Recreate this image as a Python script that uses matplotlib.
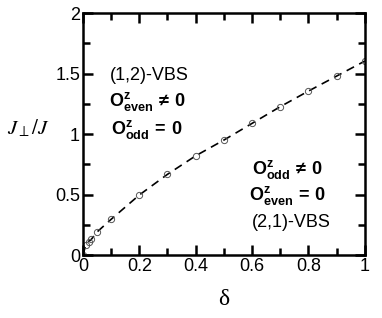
import numpy as np
import matplotlib
matplotlib.use("Agg")
import matplotlib.pyplot as plt
from matplotlib.ticker import MultipleLocator

# -----------------------------
# DADOS
# -----------------------------
delta = [0.0, 0.01, 0.02, 0.03, 0.05, 0.1, 0.2, 0.3, 0.4, 0.5, 0.6, 0.7, 0.8, 0.9, 1.0]
jperp = [0.0, 0.08, 0.11, 0.13, 0.19, 0.295, 0.496, 0.667, 0.82, 0.95, 1.088, 1.226, 1.355, 1.479, 1.603]

xticks = [0, 0.2, 0.4, 0.6, 0.8, 1]
xticklabels = ["0", "0.2", "0.4", "0.6", "0.8", "1"]
yticks = [0, 0.5, 1, 1.5, 2]
yticklabels = ["0", "0.5", "1", "1.5", "2"]

plt.rcParams["font.family"] = ["Liberation Sans", "DejaVu Sans"]
plt.rcParams["mathtext.fontset"] = "custom"
plt.rcParams["mathtext.rm"] = "Liberation Sans:bold"
plt.rcParams["mathtext.bf"] = "Liberation Sans:bold"
plt.rcParams["mathtext.it"] = "Liberation Sans:bold"

fig = plt.figure(figsize=(3.82, 3.18), dpi=100)
ax = fig.add_axes([0.217, 0.198, 0.738, 0.761])

ax.plot(delta, jperp, color="black", lw=1.2, dashes=(5, 3.5),
        marker="o", ms=4.5, mfc="none", mec="#555555", mew=0.7)

ax.set_xlim(0, 1)
ax.set_ylim(0, 2)
ax.set_xticks(xticks)
ax.set_xticklabels(xticklabels)
ax.set_yticks(yticks)
ax.set_yticklabels(yticklabels)
ax.xaxis.set_minor_locator(MultipleLocator(0.1))
ax.yaxis.set_minor_locator(MultipleLocator(0.25))
ax.tick_params(which="both", direction="in", top=True, right=True,
               labelsize=13, width=1.8, pad=2)
ax.tick_params(which="major", length=7)
ax.tick_params(which="minor", length=5)
for s in ax.spines.values():
    s.set_linewidth(1.8)

ax.set_xlabel("δ", fontsize=17, family="Liberation Serif", labelpad=10)
fig.text(0.075, 0.597, r"$J_{\perp}/J$", fontsize=15, math_fontfamily="stix",
         ha="center", va="center")

# -----------------------------
# ANOTAÇÕES
# -----------------------------
ax.text(0.234, 1.48, "(1,2)-VBS", fontsize=13, ha="center", va="center")
ax.text(0.227, 1.27, r"$\mathbf{O^{z}_{even}\,\neq\,0}$", fontsize=13, ha="center", va="center")
ax.text(0.227, 1.04, r"$\mathbf{O^{z}_{odd}\,=\,0}$", fontsize=13, ha="center", va="center")

ax.text(0.727, 0.71, r"$\mathbf{O^{z}_{odd}\,\neq\,0}$", fontsize=13, ha="center", va="center")
ax.text(0.727, 0.49, r"$\mathbf{O^{z}_{even}\,=\,0}$", fontsize=13, ha="center", va="center")
ax.text(0.74, 0.27, "(2,1)-VBS", fontsize=13, ha="center", va="center")

fig.savefig("out.png", dpi=100)
